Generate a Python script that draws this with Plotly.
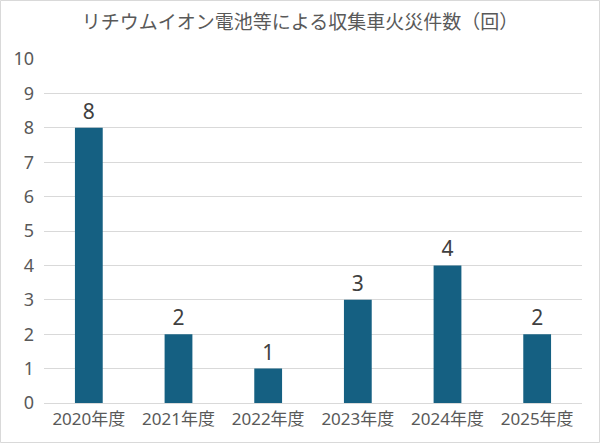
import plotly.graph_objects as go

categories = ["2020年度", "2021年度", "2022年度", "2023年度", "2024年度", "2025年度"]
values = [8, 2, 1, 3, 4, 2]
title_text = "リチウムイオン電池等による収集車火災件数（回）"

W, H = 600, 443
ml, mr, mt, mb = 44, 18, 59, 40
pw, ph = W - ml - mr, H - mt - mb

font_family = "Noto Sans, Noto Sans CJK JP, sans-serif"

fig = go.Figure(go.Bar(
    x=categories, y=values,
    marker=dict(color="#156082", line=dict(width=0)),
    text=[str(v) for v in values], textposition="outside",
    textfont=dict(size=21, color="#404040", family=font_family),
    cliponaxis=False,
))

fig.update_layout(
    width=W, height=H,
    margin=dict(l=ml, r=mr, t=mt, b=mb),
    paper_bgcolor="white", plot_bgcolor="white",
    bargap=0.69,
    showlegend=False,
    font=dict(family=font_family, color="#595959"),
    title=dict(text=title_text, x=0.5, xanchor="center", y=1 - 22 / H, yanchor="middle",
               font=dict(size=19, color="#595959", family=font_family)),
    xaxis=dict(showgrid=False, showline=False, ticks="", ticklabelstandoff=4,
               tickfont=dict(size=17, color="#595959")),
    yaxis=dict(range=[0, 10], dtick=1, showgrid=True, gridcolor="#d9d9d9", gridwidth=1,
               zeroline=True, zerolinecolor="#d9d9d9", zerolinewidth=1,
               showline=False, ticks="", ticklen=0, ticklabelstandoff=9,
               tickfont=dict(size=18, color="#595959")),
)

# outer chart border
x0 = -(ml - 0.5) / pw
x1 = 1 + (mr - 0.5) / pw
y0 = -(mb - 0.5) / ph
y1 = 1 + (mt - 0.5) / ph
fig.add_shape(type="rect", xref="paper", yref="paper", x0=x0, x1=x1, y0=y0, y1=y1,
              line=dict(color="#d9d9d9", width=1), layer="above")

fig.write_html("out.html")
